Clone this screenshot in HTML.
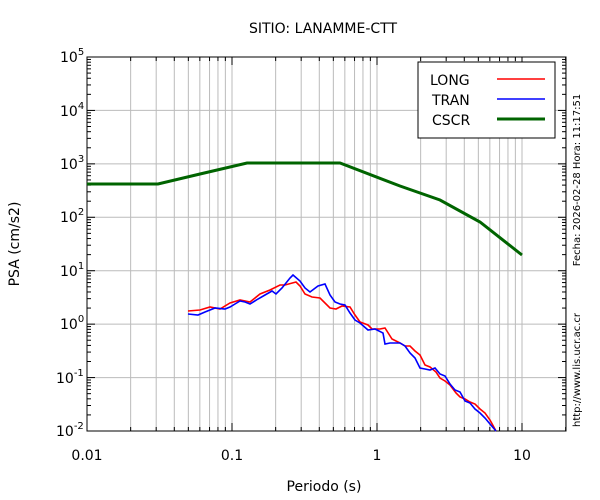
<!DOCTYPE html><html><head><style>body{margin:0;background:#fff}svg{display:block}text{font-family:"DejaVu Sans","Liberation Sans",sans-serif}</style></head><body>
<svg width="600" height="500" xmlns="http://www.w3.org/2000/svg">
<rect width="600" height="500" fill="#fff"/>
<g id="grid" stroke="#bbb" stroke-width="1"></g>
<rect x="87" y="57" width="479" height="374" fill="none" stroke="#000" stroke-width="1"/>
<g id="ticks" stroke="#000" stroke-width="1"></g>
<polyline fill="none" stroke="#006400" stroke-width="3" points="87,184 158,184 200,174 247,163 340,163 400,186 440,200 480,222 522,255"/>
<polyline fill="none" stroke="#f00" stroke-width="1.6" points="188,311 200,310 210,307 220,309 230,303 240,300 250,302 260,294 270,290 280,285 285,285 296,282 300,286 305,294 312,297 320,298 330,308 336,309 342,306 350,307 355,315 360,322 368,325 372,329 380,329 385,328 392,339 400,343 405,346 410,346 415,351 420,355 425,365 430,367 436,372 440,378 445,381 450,385 456,393 460,397 465,399 470,402 475,404 480,409 485,413 490,420 496,431"/>
<polyline fill="none" stroke="#00f" stroke-width="1.6" points="188,314 198,315 205,312 215,308 225,309 230,307 235,304 240,301 245,302 250,304 258,299 265,295 272,291 276,294 282,288 290,278 293,275 300,281 305,288 310,292 318,286 325,284 330,295 335,302 340,304 345,305 350,313 355,320 360,323 368,330 375,329 383,333 385,344 390,343 395,343 400,343 405,346 410,353 415,358 420,368 425,369 430,370 435,368 440,374 445,376 450,384 455,390 460,392 465,401 470,403 475,409 480,413 485,418 490,424 496,431"/>
<rect x="418" y="62" width="137" height="76" fill="#fff" stroke="#000"/>
<text x="430" y="85" font-size="14">LONG</text><line x1="497" y1="79" x2="545" y2="79" stroke="#f00" stroke-width="1.6"/>
<text x="432" y="105" font-size="14">TRAN</text><line x1="497" y1="99" x2="545" y2="99" stroke="#00f" stroke-width="1.6"/>
<text x="432" y="125" font-size="14">CSCR</text><line x1="497" y1="119" x2="545" y2="119" stroke="#006400" stroke-width="3"/>
<text x="323" y="33" font-size="14" text-anchor="middle">SITIO: LANAMME-CTT</text>
<text x="324" y="491" font-size="14" text-anchor="middle">Periodo (s)</text>
<text transform="translate(19,244) rotate(-90)" font-size="14" text-anchor="middle">PSA (cm/s2)</text>
<text transform="translate(580,180) rotate(-90)" font-size="10" text-anchor="middle">Fecha: 2026-02-28 Hora: 11:17:51</text>
<text transform="translate(580,370) rotate(-90)" font-size="10" text-anchor="middle">http://www.lis.ucr.ac.cr</text>
<g font-size="14" text-anchor="middle">
<text x="87" y="460">0.01</text><text x="232" y="460">0.1</text><text x="377" y="460">1</text><text x="522" y="460">10</text>
</g>
<g font-size="14">
<text x="56" y="436">10<tspan dy="-7" font-size="10">-2</tspan></text>
<text x="56" y="383">10<tspan dy="-7" font-size="10">-1</tspan></text>
<text x="60" y="329">10<tspan dy="-7" font-size="10">0</tspan></text>
<text x="60" y="276">10<tspan dy="-7" font-size="10">1</tspan></text>
<text x="60" y="222">10<tspan dy="-7" font-size="10">2</tspan></text>
<text x="60" y="169">10<tspan dy="-7" font-size="10">3</tspan></text>
<text x="60" y="116">10<tspan dy="-7" font-size="10">4</tspan></text>
<text x="60" y="62">10<tspan dy="-7" font-size="10">5</tspan></text>
</g>
<script>
var g=document.getElementById('grid'),t=document.getElementById('ticks'),ns='http://www.w3.org/2000/svg';
function L(p,a,b,c,d){var l=document.createElementNS(ns,'line');l.setAttribute('x1',a);l.setAttribute('y1',b);l.setAttribute('x2',c);l.setAttribute('y2',d);p.appendChild(l);}
for(var e=-2;e<=1;e++)for(var m=1;m<10;m++){var v=m*Math.pow(10,e);var x=87+145*(Math.log10(v)+2);if(x>566)break;L(g,x,57,x,431);var s=m==1?8:4;L(t,x,431,x,431-s);L(t,x,57,x,57+s);}
for(var k=0;k<=7;k++){var y=431-k*374/7;L(g,87,y,566,y);L(t,87,y,95,y);L(t,566,y,558,y);
for(var m=2;m<10;m++){var yy=y-Math.log10(m)*374/7;if(k<7){L(t,87,yy,91,yy);L(t,566,yy,562,yy);}}}
</script>
</svg></body></html>
